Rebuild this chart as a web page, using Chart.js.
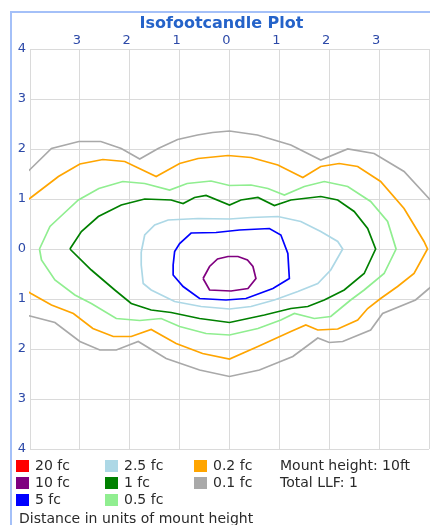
<!DOCTYPE html>
<html>
<head>
<meta charset="utf-8">
<title>Isofootcandle Plot</title>
<script src="https://cdn.jsdelivr.net/npm/chart.js@4.4.1/dist/chart.umd.min.js"></script>
<style>
  html, body { margin: 0; padding: 0; background: #fff; }
  #panel { position: relative; width: 430px; height: 525px; overflow: hidden; font-family: "DejaVu Sans", sans-serif; }
  #frame { position: absolute; left: 10px; top: 11px; right: -5px; bottom: -5px; border-left: 2px solid #a4c0f8; border-top: 2px solid #a4c0f8; }
  #plot { position: absolute; left: 0; top: 0; }
  #title { position: absolute; left: 0; width: 443px; top: 13px; text-align: center; font-weight: bold; font-size: 16px; line-height: 20px; color: #2563c9; }
  .key { position: absolute; font-size: 14px; line-height: 17px; color: #2a2a2a; white-space: nowrap; }
  .key i { position: absolute; left: -19px; top: 3px; width: 13px; height: 12px; }
</style>
</head>
<body>
<div id="panel">
  <div id="frame"></div>
  <canvas id="plot" width="430" height="525"></canvas>
  <div id="title">Isofootcandle Plot</div>
  <div id="legend"></div>
  <div class="key" style="left:280px;top:457px">Mount height: 10ft</div>
  <div class="key" style="left:280px;top:474px">Total LLF: 1</div>
  <div class="key" style="left:19px;top:510px">Distance in units of mount height</div>
</div>
<script>
// contour levels (legend order) and their colours
const levelLabels = ['20 fc', '10 fc', '5 fc', '2.5 fc', '1 fc', '0.5 fc', '0.2 fc', '0.1 fc'];
const levelColors = ['#ff0000', '#800080', '#0000ff', '#add8e6', '#008000', '#90ee90', '#ffa500', '#a9a9a9'];

// contour outlines, in units of mount height
const fc20X = [];
const fc20Y = [];
const fc10X = [-0.53, -0.40, -0.24, -0.03, 0.17, 0.36, 0.47, 0.53, 0.37, 0.03, -0.40, -0.53];
const fc10Y = [-0.59, -0.35, -0.20, -0.15, -0.15, -0.22, -0.35, -0.59, -0.79, -0.84, -0.82, -0.59];
const fc5X = [-1.13, -1.10, -1.00, -0.77, -0.27, 0.20, 0.80, 1.03, 1.17, 1.20, 0.87, 0.33, -0.07, -0.60, -0.93, -1.13, -1.13];
const fc5Y = [-0.32, -0.05, 0.11, 0.32, 0.33, 0.38, 0.41, 0.28, -0.09, -0.59, -0.79, -0.99, -1.02, -0.99, -0.75, -0.52, -0.32];
const fc25X = [-1.77, -1.70, -1.50, -1.23, -0.63, 0, 0.43, 0.97, 1.43, 1.83, 2.17, 2.27, 2.03, 1.77, 1.37, 0.90, 0.43, 0, -0.57, -1.10, -1.57, -1.73, -1.77, -1.77];
const fc25Y = [-0.06, 0.28, 0.48, 0.58, 0.61, 0.60, 0.63, 0.65, 0.55, 0.35, 0.15, 0, -0.42, -0.69, -0.85, -1.02, -1.15, -1.20, -1.15, -1.05, -0.82, -0.69, -0.32, -0.06];
const fc1X = [-3.20, -2.97, -2.63, -2.17, -1.70, -1.17, -0.93, -0.70, -0.47, 0, 0.23, 0.57, 0.90, 1.23, 1.83, 2.17, 2.50, 2.77, 2.93, 2.70, 2.30, 1.90, 1.57, 1.23, 0.70, 0, -0.60, -1.17, -1.57, -1.97, -2.30, -2.77, -3.20];
const fc1Y = [0, 0.35, 0.65, 0.88, 1.00, 0.98, 0.91, 1.03, 1.07, 0.88, 0.98, 1.03, 0.87, 0.98, 1.05, 0.98, 0.75, 0.41, 0, -0.49, -0.82, -1.02, -1.15, -1.19, -1.32, -1.47, -1.39, -1.27, -1.22, -1.09, -0.82, -0.42, 0];
const fc05X = [-3.81, -3.60, -3.43, -3.03, -2.62, -2.14, -1.70, -1.20, -0.85, -0.37, 0, 0.43, 0.77, 1.10, 1.50, 1.90, 2.37, 2.83, 3.17, 3.34, 3.10, 2.70, 2.43, 2.03, 1.70, 1.30, 1.03, 0.57, 0, -0.47, -1.00, -1.37, -1.80, -2.27, -2.77, -3.10, -3.50, -3.77, -3.81];
const fc05Y = [0, 0.45, 0.61, 0.98, 1.21, 1.35, 1.31, 1.18, 1.31, 1.36, 1.27, 1.28, 1.21, 1.08, 1.25, 1.35, 1.25, 0.95, 0.55, 0, -0.49, -0.82, -1.02, -1.35, -1.39, -1.29, -1.42, -1.59, -1.72, -1.69, -1.55, -1.39, -1.43, -1.39, -1.09, -0.92, -0.62, -0.22, 0];
const fc02X = [-4.20, -3.98, -3.43, -3.00, -2.54, -2.10, -1.47, -1.00, -0.63, -0.03, 0.43, 0.97, 1.47, 1.83, 2.20, 2.57, 3.03, 3.50, 3.90, 3.97, 3.70, 3.37, 3.03, 2.77, 2.57, 2.17, 1.77, 1.53, 1.23, 0.57, 0, -0.54, -1.07, -1.57, -1.97, -2.33, -2.74, -3.13, -3.57, -3.98, -4.20, -4.20];
const fc02Y = [0.86, 1.03, 1.45, 1.70, 1.79, 1.75, 1.45, 1.71, 1.81, 1.87, 1.83, 1.68, 1.43, 1.65, 1.71, 1.65, 1.35, 0.81, 0.15, 0, -0.49, -0.75, -0.99, -1.19, -1.42, -1.60, -1.62, -1.52, -1.65, -1.95, -2.20, -2.09, -1.89, -1.61, -1.75, -1.75, -1.59, -1.29, -1.12, -0.89, -0.76, 0.86];
const fc01X = [-4.20, -3.98, -3.57, -3.02, -2.58, -2.17, -1.80, -1.43, -1.04, -0.64, -0.34, 0, 0.56, 1.23, 1.83, 2.37, 2.90, 3.50, 4.00, 4.20, 4.20, 4.00, 3.73, 3.07, 2.83, 2.27, 2.00, 1.77, 1.27, 0.60, 0, -0.60, -1.27, -1.83, -2.27, -2.60, -3.00, -3.50, -4.00, -4.20, -4.20];
const fc01Y = [1.40, 1.61, 2.01, 2.15, 2.15, 2.01, 1.80, 2.01, 2.19, 2.28, 2.33, 2.36, 2.28, 2.08, 1.78, 2.00, 1.91, 1.55, 1.01, 0.80, -0.61, -0.79, -1.02, -1.29, -1.62, -1.85, -1.87, -1.78, -2.15, -2.42, -2.55, -2.42, -2.19, -1.85, -2.02, -2.02, -1.85, -1.47, -1.34, -1.30, 1.40];

// axis ticks (distance in units of mount height)
const tickMin = -4;
const tickMax = 4;

const contourX = [fc20X, fc10X, fc5X, fc25X, fc1X, fc05X, fc02X, fc01X];
const contourY = [fc20Y, fc10Y, fc5Y, fc25Y, fc1Y, fc05Y, fc02Y, fc01Y];

// legend: three columns, filled top to bottom
const legendEl = document.getElementById('legend');
const colLeft = [35, 124, 213];
const rowTop = [457, 474, 491];
levelLabels.forEach((label, i) => {
  const d = document.createElement('div');
  d.className = 'key';
  d.style.left = colLeft[Math.floor(i / 3)] + 'px';
  d.style.top = rowTop[i % 3] + 'px';
  d.innerHTML = '<i style="background:' + levelColors[i] + '"></i>' + label;
  legendEl.appendChild(d);
});

const datasets = levelLabels.map((label, i) => ({
  label: label,
  data: contourX[i].map((x, k) => ({ x: x, y: contourY[i][k] })),
  showLine: true,
  borderColor: levelColors[i],
  borderWidth: 1.7,
  pointRadius: 0,
  tension: 0,
  clip: 1
}));

const tickFont = { family: 'DejaVu Sans', size: 13 };
const gridColor = '#dadada';

new Chart(document.getElementById('plot').getContext('2d'), {
  type: 'scatter',
  data: { datasets: datasets },
  options: {
    responsive: false,
    animation: false,
    devicePixelRatio: 1,
    layout: { padding: { left: 0, top: 0, right: 0, bottom: 76 } },
    plugins: { legend: { display: false }, title: { display: false }, tooltip: { enabled: false } },
    scales: {
      x: {
        type: 'linear', position: 'top', min: tickMin, max: tickMax,
        afterFit: s => { s.height = 49; },
        border: { display: true, color: gridColor },
        grid: { color: gridColor, drawTicks: false },
        ticks: {
          stepSize: 1, autoSkip: false, padding: 1, labelOffset: -3,
          color: '#2d4aa8', font: tickFont,
          callback: v => (Math.abs(v) === 4 ? '' : String(Math.abs(v)))
        }
      },
      y: {
        type: 'linear', position: 'left', min: tickMin, max: tickMax,
        afterFit: s => { s.width = 30; },
        border: { display: true, color: gridColor },
        grid: { color: gridColor, drawTicks: false },
        ticks: {
          stepSize: 1, autoSkip: false, padding: 4,
          color: '#2d4aa8', font: tickFont,
          callback: v => String(Math.abs(v))
        }
      }
    }
  }
});
</script>
</body>
</html>
